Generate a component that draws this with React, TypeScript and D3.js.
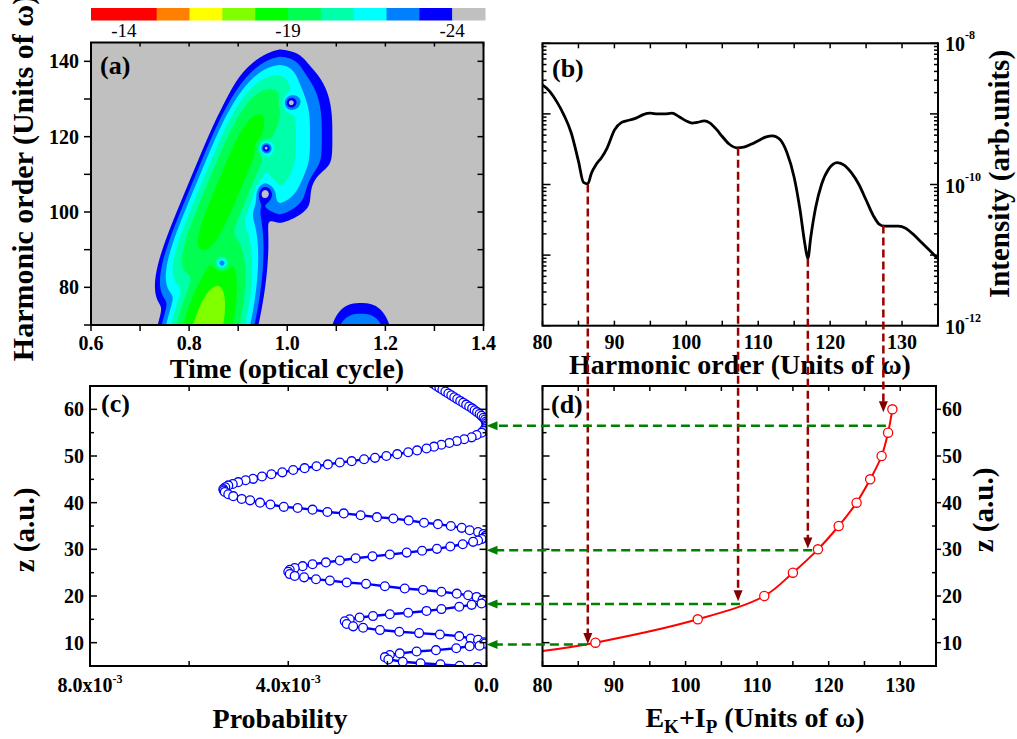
import React, { useMemo } from "react";
import * as d3 from "d3";

const W = 1017;
const H = 739;
const FONT = "'Liberation Serif', 'Times New Roman', serif";

// ---------- colour bar ----------
const levelEdges = [-13, -14, -15, -16, -17, -18, -19, -20, -21, -22, -23, -24, -25];
const levelColors = ["#ff0000", "#ff0000", "#ff8000", "#ffff00", "#80ff00", "#00ff00", "#00ff50", "#00ffaa", "#00ffff", "#0080ff", "#0000ff", "#c0c0c0"];
const colorbarTicks = [-14, -19, -24];

// ---------- panel (a): time-frequency model (log10 intensity) ----------
const compPeak = [-17.4, -18.6, -20.3, -21.8];
const compT0 = [0.835, 0.885, 0.985, 1.15];
const compQ0 = [68, 108, 120, 65];
const compWT = [0.04, 0.0395, 0.042, 0.047];
const compPT = [2, 2.2, 1.4, 2.6];
const compWQ = [16, 22.5, 14.8, 7.3];
const compPQ = [2, 4, 3, 2];
const compShear = [0.0018, 0.0032, 0, 0];
const holeT = [1.007, 0.956, 0.956, 0.867, 1.08];
const holeQ = [129, 117, 105, 86.4, 106];
const holeRT = [0.014, 0.0122, 0.016, 0.0115, 0.03];
const holeRQ = [1.8, 1.6, 2.1, 1.5, 4];
const holeDepth = [3.6, 4.5, 2.6, 4, 3];
const timeTicks = [0.6, 0.7, 0.8, 0.9, 1.0, 1.1, 1.2, 1.3, 1.4];
const timeLabels = [0.6, 0.8, 1.0, 1.2, 1.4];
const orderTicksA = [70, 80, 90, 100, 110, 120, 130, 140];
const orderLabelsA = [80, 100, 120, 140];

// ---------- panel (b): harmonic spectrum ----------
const specOrder = [80, 81, 82, 83, 84, 85, 85.7, 86.3, 86.8, 87.5, 88.2, 89, 90, 91, 92, 93, 94, 95, 96, 97, 98, 99, 100, 100.8, 101.5, 102.5, 103.3, 104.2, 105, 106, 107, 108, 109, 110, 111, 112, 113, 114, 115, 115.8, 116.5, 116.9, 117.3, 118, 118.8, 119.8, 121, 122, 123, 124, 125, 126, 126.8, 127.6, 128.5, 129.5, 130.5, 131.5, 132.5, 133.5, 134.3, 135];
const specExp = [-8.59, -8.68, -8.83, -9.02, -9.27, -9.67, -9.97, -9.99, -9.84, -9.71, -9.62, -9.48, -9.23, -9.12, -9.09, -9.06, -9.01, -8.99, -9.0, -9.0, -8.99, -9.04, -9.1, -9.13, -9.12, -9.1, -9.13, -9.22, -9.32, -9.43, -9.48, -9.47, -9.43, -9.38, -9.33, -9.31, -9.36, -9.55, -9.9, -10.35, -10.85, -11.05, -10.75, -10.32, -10.0, -9.78, -9.69, -9.73, -9.84, -10.0, -10.22, -10.44, -10.56, -10.59, -10.59, -10.59, -10.62, -10.7, -10.8, -10.9, -10.98, -11.05];
const orderTicksB = [80, 85, 90, 95, 100, 105, 110, 115, 120, 125, 130, 135];
const orderLabelsB = [80, 90, 100, 110, 120, 130];
const intensityLabelExp = [-8, -10, -12];

// ---------- panel (c): probability vs z ----------
const probP = [1.15, 1.08, 1.01, 0.95, 0.89, 0.83, 0.77, 0.71, 0.65, 0.59, 0.53, 0.47, 0.41, 0.35, 0.29, 0.24, 0.19, 0.14, 0.1, 0.06, 0.03, 0.01, 0.0, 0.0, 0.01, 0.03, 0.06, 0.1,
  0.2, 0.3, 0.45, 0.6, 0.75, 0.91, 1.06, 1.21, 1.4, 1.58, 1.8, 2.02, 2.25, 2.47, 2.72, 2.96, 3.2, 3.43, 3.67, 3.9, 4.12, 4.34, 4.53, 4.71, 4.86, 5.01, 5.12, 5.21, 5.27, 5.31, 5.3,
  5.28, 5.21, 5.11, 4.94, 4.77, 4.57, 4.36, 4.09, 3.81, 3.51, 3.21, 2.88, 2.54, 2.21, 1.88, 1.57, 1.26, 0.98, 0.72, 0.5, 0.34, 0.17, 0.06, 0.02,
  0.04, 0.1, 0.17, 0.27, 0.48, 0.73, 1.0, 1.3, 1.61, 1.95, 2.3, 2.64, 2.96, 3.24, 3.51, 3.71, 3.87, 3.97, 4.0,
  3.97, 3.87, 3.68, 3.44, 3.16, 2.82, 2.43, 2.05, 1.65, 1.28, 0.91, 0.6, 0.37, 0.2, 0.08,
  0.02, 0.1, 0.3, 0.55, 0.91, 1.21, 1.58, 1.95, 2.29, 2.56, 2.76, 2.86,
  2.82, 2.69, 2.49, 2.15, 1.76, 1.36, 0.94, 0.55, 0.32, 0.17, 0.05,
  0.03, 0.14, 0.34, 0.61, 1.02, 1.41, 1.75, 1.95, 2.05, 1.98, 1.69, 1.33, 0.93, 0.54, 0.18];
const probZ = [66.0, 65.5, 65.0, 64.6, 64.2, 63.8, 63.4, 63.0, 62.6, 62.2, 61.8, 61.4, 61.0, 60.6, 60.2, 59.8, 59.4, 59.0, 58.6, 58.2, 57.8, 57.4, 57.0, 56.6, 56.2, 55.8, 55.4, 55.0,
  54.5, 54.0, 53.6, 53.2, 52.8, 52.4, 52.0, 51.6, 51.2, 50.8, 50.4, 50.0, 49.6, 49.3, 48.9, 48.6, 48.2, 47.8, 47.4, 47.0, 46.5, 46.1, 45.6, 45.1, 44.8, 44.4, 44.0, 43.7, 43.3, 42.9, 42.6,
  42.3, 41.8, 41.4, 40.8, 40.5, 40.0, 39.6, 39.1, 38.85, 38.5, 38.0, 37.7, 37.3, 36.9, 36.6, 36.2, 35.7, 35.4, 35.0, 34.6, 34.1, 33.7, 33.3, 32.9,
  32.5, 32.2, 31.9, 31.6, 31.1, 30.6, 30.1, 29.7, 29.3, 28.9, 28.5, 28.1, 27.6, 27.2, 26.8, 26.4, 26.0, 25.6, 25.2,
  24.7, 24.3, 24.0, 23.6, 23.3, 22.9, 22.6, 22.1, 21.6, 21.3, 20.9, 20.5, 20.15, 19.8, 19.2,
  18.8, 18.4, 18.1, 17.7, 17.2, 16.8, 16.4, 16.1, 15.7, 15.4, 15.0, 14.6,
  14.0, 13.5, 13.2, 12.7, 12.35, 12.05, 11.75, 11.4, 10.9, 10.6, 10.1,
  9.8, 9.35, 9.25, 8.8, 8.4, 8.1, 7.7, 7.35, 6.9, 6.4, 5.9, 5.6, 5.35, 5.05, 4.8];
const probTicks = [8, 6, 4, 2, 0];
const probLabels = [
  { v: 8, text: "8.0x10", exp: "-3" },
  { v: 4, text: "4.0x10", exp: "-3" },
  { v: 0, text: "0.0", exp: "" },
];
const zTicks = [5, 10, 15, 20, 25, 30, 35, 40, 45, 50, 55, 60, 65];
const zLabels = [10, 20, 30, 40, 50, 60];

// ---------- panel (d): energy vs z ----------
const energyLine = [80, 87.4, 101.7, 111.0, 115.0, 118.5, 121.4, 123.9, 125.8, 127.4, 128.3, 128.9];
const zLine = [8.2, 10, 15, 20, 25, 30, 35, 40, 45, 50, 55, 60];
const energyMarkers = [87.4, 101.7, 111.0, 115.0, 118.5, 121.4, 123.9, 125.8, 127.4, 128.3, 128.9];
const zMarkers = [10, 15, 20, 25, 30, 35, 40, 45, 50, 55, 60];

// ---------- arrows ----------
const arrowOrder = [86.3, 107.2, 116.9, 127.4];
const arrowTopExp = [-10.0, -9.48, -11.05, -10.58];
const arrowEndZ = [9.7, 18.9, 30.2, 59.4];
const greenZ = [56.5, 29.8, 18.3, 9.6];
const greenStartE = [128.0, 117.7, 107.6, 86.2];

// ---------- layout ----------
const A = { x0: 91, x1: 483.5, y0: 42.5, y1: 325 };
const B = { x0: 542.5, x1: 938, y0: 43.3, y1: 325.7 };
const C = { x0: 90, x1: 486.5, y0: 386, y1: 666 };
const D = { x0: 542.5, x1: 936, y0: 386, y1: 666 };

const xA = d3.scaleLinear().domain([0.6, 1.4]).range([A.x0, A.x1]);
const yA = d3.scaleLinear().domain([70, 145]).range([A.y1, A.y0]);
const xB = d3.scaleLinear().domain([80, 135]).range([B.x0, B.x1]);
const yB = d3.scaleLog().domain([1e-12, 1e-8]).range([B.y1, B.y0]);
const xC = d3.scaleLinear().domain([8, 0]).range([C.x0, C.x1]);
const yC = d3.scaleLinear().domain([5, 65]).range([C.y1, C.y0]);
const xD = d3.scaleLinear().domain([80, 135]).range([D.x0, D.x1]);
const yD = d3.scaleLinear().domain([5, 65]).range([D.y1, D.y0]);
const cb = d3.scaleLinear().domain([-13, -25]).range([91, 485]);

function fieldValue(t: number, q: number): number {
  let s = 0;
  for (let k = 0; k < compPeak.length; k++) {
    const dt = (t - compT0[k] - compShear[k] * (q - compQ0[k])) / compWT[k];
    const dq = (q - compQ0[k]) / compWQ[k];
    const g = compPeak[k] - Math.pow(Math.abs(dt), compPT[k]) - Math.pow(Math.abs(dq), compPQ[k]);
    s += Math.pow(10, g + 30);
  }
  let f = Math.log10(s) - 30;
  for (let h = 0; h < holeT.length; h++) {
    const r2 = ((t - holeT[h]) / holeRT[h]) ** 2 + ((q - holeQ[h]) / holeRQ[h]) ** 2;
    f -= holeDepth[h] * Math.exp(-r2);
  }
  return Math.max(f, -40);
}

const tickStroke = { stroke: "#000", strokeWidth: 1.5 };

function Arrowhead({ x, y, dir, color }: { x: number; y: number; dir: "down" | "left"; color: string }) {
  const L = 11, w = 4.5;
  const pts = dir === "down"
    ? [[x, y], [x - w, y - L], [x + w, y - L]]
    : [[x, y], [x + L, y - w], [x + L, y + w]];
  return <polygon points={pts.map((p) => p.join(",")).join(" ")} fill={color} />;
}

export default function App() {
  const contourData = useMemo(() => {
    const nx = Math.round(A.x1 - A.x0);
    const ny = Math.round(A.y1 - A.y0);
    const sx = (A.x1 - A.x0) / nx;
    const sy = (A.y1 - A.y0) / ny;
    const vals: number[] = new Array(nx * ny);
    for (let j = 0; j < ny; j++) {
      const q = yA.invert(A.y0 + (j + 0.5) * sy);
      for (let i = 0; i < nx; i++) {
        const t = xA.invert(A.x0 + (i + 0.5) * sx);
        vals[j * nx + i] = fieldValue(t, q);
      }
    }
    const thresholds = levelEdges.filter((v) => v >= -24 && v <= -14).sort((a, b) => a - b);
    const cs = d3.contours().size([nx, ny]).thresholds(thresholds)(vals);
    const path = d3.geoPath();
    return {
      sx, sy,
      items: cs.map((c) => ({ d: path(c as any) || "", fill: levelColors[levelEdges.indexOf(c.value) - 1] })),
    };
  }, []);

  const specLine = d3.line<number>()
    .x((_, i) => xB(specOrder[i]))
    .y((v) => yB(Math.pow(10, v)))
    .curve(d3.curveMonotoneX)(specExp) || "";

  const probLine = d3.line<number>()
    .x((p) => xC(p))
    .y((_, i) => yC(probZ[i]))(probP) || "";

  const energyPath = d3.line<number>()
    .x((e) => xD(e))
    .y((_, i) => yD(zLine[i]))
    .curve(d3.curveCatmullRom)(energyLine) || "";

  const logTicks = yB.ticks();

  return (
    <svg width={W} height={H} style={{ position: "absolute", left: 0, top: 0, background: "#fff" }} fontFamily={FONT}>
      <defs>
        <clipPath id="clipA"><rect x={A.x0} y={A.y0} width={A.x1 - A.x0} height={A.y1 - A.y0} /></clipPath>
        <clipPath id="clipB"><rect x={B.x0} y={B.y0} width={B.x1 - B.x0} height={B.y1 - B.y0} /></clipPath>
        <clipPath id="clipC"><rect x={C.x0} y={C.y0} width={C.x1 - C.x0} height={C.y1 - C.y0} /></clipPath>
        <clipPath id="clipD"><rect x={D.x0} y={D.y0} width={D.x1 - D.x0} height={D.y1 - D.y0} /></clipPath>
      </defs>
      <rect x={0} y={0} width={W} height={H} fill="#fff" />

      {/* colour bar */}
      {levelColors.map((c, i) => (
        <rect key={i} x={cb(levelEdges[i])} y={8} width={cb(levelEdges[i + 1]) - cb(levelEdges[i]) + 0.5} height={12.5} fill={c} />
      ))}
      {colorbarTicks.map((v) => (
        <text key={v} x={cb(v)} y={36.5} fontSize={19} textAnchor="middle">{v}</text>
      ))}

      {/* ---------- panel (a) ---------- */}
      <g clipPath="url(#clipA)">
        <rect x={A.x0} y={A.y0} width={A.x1 - A.x0} height={A.y1 - A.y0} fill="#c0c0c0" />
        <g transform={`translate(${A.x0},${A.y0}) scale(${contourData.sx},${contourData.sy})`}>
          {contourData.items.map((it, i) => (
            <path key={i} d={it.d} fill={it.fill} stroke="none" />
          ))}
        </g>
      </g>
      <rect x={A.x0} y={A.y0} width={A.x1 - A.x0} height={A.y1 - A.y0} fill="none" stroke="#000" strokeWidth={2} />
      {timeTicks.map((v) => (
        <g key={v}>
          <line x1={xA(v)} x2={xA(v)} y1={A.y1} y2={A.y1 + 6} {...tickStroke} />
          <line x1={xA(v)} x2={xA(v)} y1={A.y0} y2={A.y0 + 4} {...tickStroke} />
        </g>
      ))}
      {orderTicksA.map((v) => (
        <g key={v}>
          <line x1={A.x0 - 7} x2={A.x0} y1={yA(v)} y2={yA(v)} {...tickStroke} />
          <line x1={A.x1 - 6} x2={A.x1} y1={yA(v)} y2={yA(v)} {...tickStroke} />
        </g>
      ))}
      {timeLabels.map((v) => (
        <text key={v} x={xA(v)} y={350} fontSize={20} fontWeight="bold" textAnchor="middle">{v.toFixed(1)}</text>
      ))}
      {orderLabelsA.map((v) => (
        <text key={v} x={79} y={yA(v) + 7} fontSize={20} fontWeight="bold" textAnchor="end">{v}</text>
      ))}
      <text x={100} y={74} fontSize={26} fontWeight="bold">(a)</text>
      <text x={287} y={378} fontSize={28} fontWeight="bold" textAnchor="middle">Time (optical cycle)</text>
      <text transform={`translate(33,178) rotate(-90)`} fontSize={30} fontWeight="bold" textAnchor="middle">Harmonic order (Units of ω)</text>

      {/* ---------- panel (b) ---------- */}
      <path d={specLine} fill="none" stroke="#000" strokeWidth={2.8} clipPath="url(#clipB)" />
      <rect x={B.x0} y={B.y0} width={B.x1 - B.x0} height={B.y1 - B.y0} fill="none" stroke="#000" strokeWidth={2} />
      {orderTicksB.map((v) => (
        <g key={v}>
          <line x1={xB(v)} x2={xB(v)} y1={B.y1} y2={B.y1 - 5} {...tickStroke} />
          <line x1={xB(v)} x2={xB(v)} y1={B.y0} y2={B.y0 + 5} {...tickStroke} />
        </g>
      ))}
      {logTicks.map((v, i) => {
        const major = Math.abs(Math.log10(v) - Math.round(Math.log10(v))) < 1e-6;
        const len = major ? 8 : 4;
        return (
          <g key={i}>
            <line x1={B.x0} x2={B.x0 + len} y1={yB(v)} y2={yB(v)} {...tickStroke} />
            <line x1={B.x1 - len} x2={B.x1} y1={yB(v)} y2={yB(v)} {...tickStroke} />
          </g>
        );
      })}
      {orderLabelsB.map((v) => (
        <text key={v} x={xB(v)} y={349} fontSize={20} fontWeight="bold" textAnchor="middle">{v}</text>
      ))}
      {intensityLabelExp.map((e) => (
        <text key={e} x={945} y={yB(Math.pow(10, e)) + 8} fontSize={20} fontWeight="bold">
          10<tspan dy={-12} fontSize={12}>{e}</tspan>
        </text>
      ))}
      <text x={552} y={77} fontSize={26} fontWeight="bold">(b)</text>
      <text x={740} y={374} fontSize={28} fontWeight="bold" textAnchor="middle">Harmonic order (Units of ω)</text>
      <text transform={`translate(1009,174) rotate(-90)`} fontSize={29} fontWeight="bold" textAnchor="middle">Intensity (arb.units)</text>

      {/* ---------- panel (c) ---------- */}
      <g clipPath="url(#clipC)">
        <path d={probLine} fill="none" stroke="#0000ff" strokeWidth={2.4} />
        {probP.map((p, i) => (
          <circle key={i} cx={xC(p)} cy={yC(probZ[i])} r={4.4} fill="#fff" stroke="#0000ff" strokeWidth={1.3} />
        ))}
      </g>
      <rect x={C.x0} y={C.y0} width={C.x1 - C.x0} height={C.y1 - C.y0} fill="none" stroke="#000" strokeWidth={2} />
      {probTicks.map((v) => (
        <g key={v}>
          <line x1={xC(v)} x2={xC(v)} y1={C.y1} y2={C.y1 - 5} {...tickStroke} />
          <line x1={xC(v)} x2={xC(v)} y1={C.y0} y2={C.y0 + 5} {...tickStroke} />
        </g>
      ))}
      {zTicks.map((v) => {
        const len = v % 10 === 0 ? 7 : 4;
        return (
          <g key={v}>
            <line x1={C.x0} x2={C.x0 + len} y1={yC(v)} y2={yC(v)} {...tickStroke} />
            <line x1={C.x1 - len} x2={C.x1} y1={yC(v)} y2={yC(v)} {...tickStroke} />
          </g>
        );
      })}
      {probLabels.map((l) => (
        <text key={l.v} x={xC(l.v)} y={692} fontSize={20} fontWeight="bold" textAnchor="middle">
          {l.text}
          {l.exp && <tspan dy={-9} fontSize={12}>{l.exp}</tspan>}
        </text>
      ))}
      {zLabels.map((v) => (
        <text key={v} x={84} y={yC(v) + 7} fontSize={20} fontWeight="bold" textAnchor="end">{v}</text>
      ))}
      <text x={101} y={412} fontSize={26} fontWeight="bold">(c)</text>
      <text x={280} y={728} fontSize={28} fontWeight="bold" textAnchor="middle">Probability</text>
      <text transform={`translate(34,530) rotate(-90)`} fontSize={29} fontWeight="bold" textAnchor="middle">z (a.u.)</text>

      {/* ---------- panel (d) ---------- */}
      <g clipPath="url(#clipD)">
        <path d={energyPath} fill="none" stroke="#ff0000" strokeWidth={2} />
        {energyMarkers.map((e, i) => (
          <circle key={i} cx={xD(e)} cy={yD(zMarkers[i])} r={4.6} fill="#fff" stroke="#ff0000" strokeWidth={1.3} />
        ))}
      </g>
      <rect x={D.x0} y={D.y0} width={D.x1 - D.x0} height={D.y1 - D.y0} fill="none" stroke="#000" strokeWidth={2} />
      {orderTicksB.map((v) => (
        <g key={v}>
          <line x1={xD(v)} x2={xD(v)} y1={D.y1} y2={D.y1 - 5} {...tickStroke} />
          <line x1={xD(v)} x2={xD(v)} y1={D.y0} y2={D.y0 + 5} {...tickStroke} />
        </g>
      ))}
      {zTicks.map((v) => {
        const major = v % 10 === 0;
        return (
          <g key={v}>
            <line x1={D.x0} x2={D.x0 + (major ? 7 : 4)} y1={yD(v)} y2={yD(v)} {...tickStroke} />
            <line x1={D.x1} x2={D.x1 + (major ? 5 : 0)} y1={yD(v)} y2={yD(v)} {...tickStroke} />
            {!major && <line x1={D.x1 - 4} x2={D.x1} y1={yD(v)} y2={yD(v)} {...tickStroke} />}
          </g>
        );
      })}
      {orderLabelsB.map((v) => (
        <text key={v} x={xD(v)} y={692} fontSize={20} fontWeight="bold" textAnchor="middle">{v}</text>
      ))}
      {zLabels.map((v) => (
        <text key={v} x={942} y={yD(v) + 7} fontSize={20} fontWeight="bold">{v}</text>
      ))}
      <text x={551} y={413} fontSize={26} fontWeight="bold">(d)</text>
      <text x={755} y={727} fontSize={28} fontWeight="bold" textAnchor="middle">
        E<tspan dy={6} fontSize={19}>K</tspan><tspan dy={-6}>+I</tspan><tspan dy={6} fontSize={19}>P</tspan><tspan dy={-6}> (Units of ω)</tspan>
      </text>
      <text transform={`translate(993,510) rotate(-90)`} fontSize={29} fontWeight="bold" textAnchor="middle">z (a.u.)</text>

      {/* ---------- arrows ---------- */}
      {arrowOrder.map((o, i) => {
        const x = xB(o);
        const y0 = yB(Math.pow(10, arrowTopExp[i]));
        const y1 = yD(arrowEndZ[i]);
        return (
          <g key={i}>
            <line x1={x} x2={x} y1={y0} y2={y1 - 10} stroke="#990000" strokeWidth={2.5} strokeDasharray="8 4" />
            <Arrowhead x={x} y={y1} dir="down" color="#800000" />
          </g>
        );
      })}
      {greenZ.map((z, i) => {
        const y = yD(z);
        const x0 = xD(greenStartE[i]);
        const x1 = xC(0);
        return (
          <g key={i}>
            <line x1={x0} x2={x1 + 10} y1={y} y2={y} stroke="#008000" strokeWidth={2.5} strokeDasharray="9 5" />
            <Arrowhead x={x1} y={y} dir="left" color="#008000" />
          </g>
        );
      })}
    </svg>
  );
}
